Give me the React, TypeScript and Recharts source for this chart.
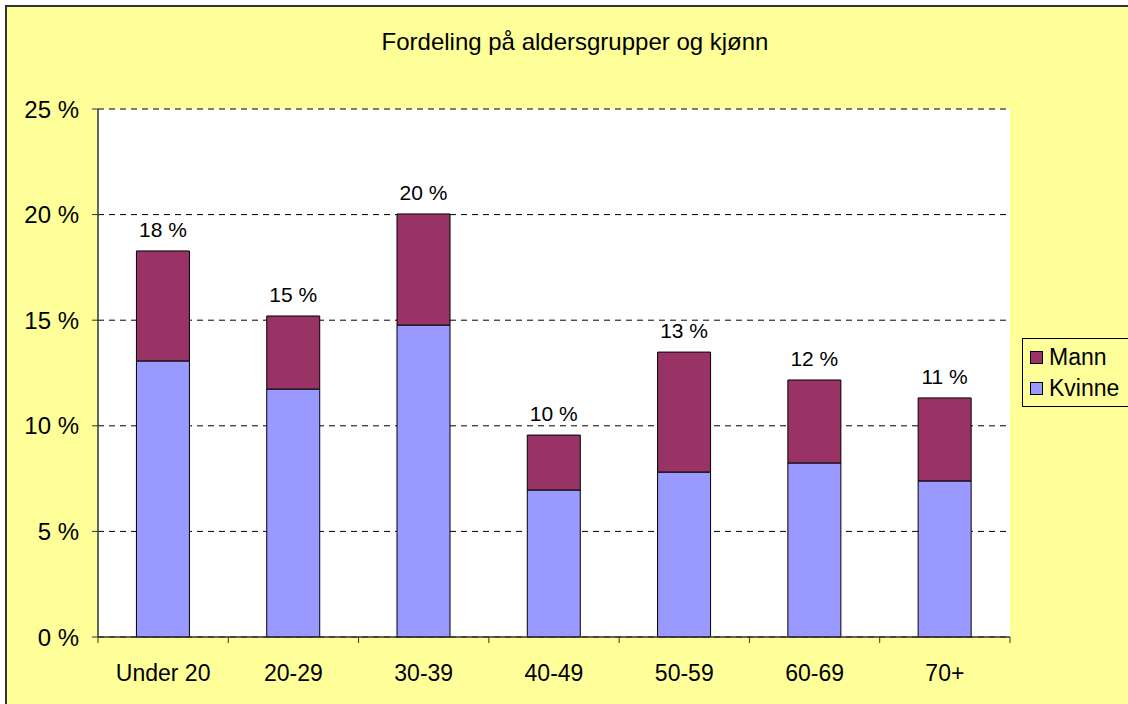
import { Bar, BarChart, CartesianGrid, LabelList, XAxis, YAxis } from "recharts";

const groups = ["Under 20", "20-29", "30-39", "40-49", "50-59", "60-69", "70+"];
const kvinne = [13.07, 11.74, 14.77, 6.96, 7.81, 8.24, 7.39];
const mann = [5.21, 3.46, 5.26, 2.6, 5.68, 3.93, 3.93];
const yTicks = [0, 5, 10, 15, 20, 25];

const data = groups.map((g, i) => ({
  group: g,
  Kvinne: kvinne[i],
  Mann: mann[i],
  total: kvinne[i] + mann[i],
}));

const FONT = "'Liberation Sans', Arial, sans-serif";

function GroupTick(props: any) {
  const { x, y, payload, index } = props;
  const half = payload.offset ?? 0;
  const axisY = y - 8;
  return (
    <g>
      <line x1={x + half} x2={x + half} y1={axisY} y2={axisY + 6} stroke="#333" />
      {index === 0 && <line x1={x - half} x2={x - half} y1={axisY} y2={axisY + 6} stroke="#333" />}
      <text x={x} y={axisY + 44} textAnchor="middle" fontSize={23} fill="#000" fontFamily={FONT}>
        {payload.value}
      </text>
    </g>
  );
}

function LegendBox() {
  const items = [
    { name: "Mann", color: "#993366" },
    { name: "Kvinne", color: "#9999FF" },
  ];
  return (
    <div
      style={{
        position: "absolute",
        left: 1022,
        top: 338,
        width: 130,
        height: 69,
        boxSizing: "border-box",
        border: "1px solid #000",
        background: "#FFFF99",
        padding: "3px 0 0 7px",
        fontFamily: FONT,
        fontSize: 23,
        lineHeight: "31px",
      }}
    >
      {items.map((it) => (
        <div key={it.name} style={{ display: "flex", alignItems: "center" }}>
          <span
            style={{
              display: "inline-block",
              width: 11,
              height: 11,
              background: it.color,
              border: "1px solid #000",
              marginRight: 6,
            }}
          />
          {it.name}
        </div>
      ))}
    </div>
  );
}

export default function App() {
  return (
    <div style={{ position: "absolute", left: 0, top: 0, width: 1128, height: 704, overflow: "hidden" }}>
      <div
        style={{
          position: "absolute",
          left: 5,
          top: 5,
          width: 1140,
          height: 720,
          background: "#FFFF99",
          border: "2px solid #333",
        }}
      />
      <div
        style={{
          position: "absolute",
          left: 0,
          top: 28,
          width: 1150,
          textAlign: "center",
          fontFamily: FONT,
          fontSize: 24,
        }}
      >
        Fordeling på aldersgrupper og kjønn
      </div>
      <div style={{ position: "absolute", left: 0, top: 0 }}>
        <BarChart
          width={1128}
          height={704}
          data={data}
          barCategoryGap="29.5%"
          margin={{ top: 109, right: 118, bottom: 37, left: 8 }}
        >
          <CartesianGrid vertical={false} fill="#fff" stroke="#000" strokeDasharray="6 5" />
          <XAxis
            dataKey="group"
            height={30}
            axisLine={{ stroke: "#333", strokeWidth: 1.5 }}
            tickLine={false}
            tickSize={0}
            tickMargin={8}
            tick={<GroupTick />}
            interval={0}
          />
          <XAxis xAxisId="top" dataKey="group" orientation="top" height={0} tick={false} tickLine={false} axisLine={{ stroke: "#888" }} />
          <YAxis
            domain={[0, 25]}
            ticks={yTicks}
            width={90}
            tickSize={6}
            tickMargin={13}
            axisLine={{ stroke: "#333", strokeWidth: 1.5 }}
            tickLine={{ stroke: "#333" }}
            tick={{ fill: "#000", fontSize: 24, fontFamily: FONT }}
            tickFormatter={(v: number) => `${v} %`}
          />
          <YAxis yAxisId="right" orientation="right" width={0} domain={[0, 25]} tick={false} tickLine={false} axisLine={{ stroke: "#888" }} />
          <Bar dataKey="Kvinne" stackId="a" fill="#9999FF" stroke="#000" strokeWidth={1} isAnimationActive={false} />
          <Bar dataKey="Mann" stackId="a" fill="#993366" stroke="#000" strokeWidth={1} isAnimationActive={false}>
            <LabelList
              dataKey="total"
              position="top"
              offset={14}
              formatter={(v: any) => `${Math.round(Number(v))} %`}
              style={{ fill: "#000", fontSize: 21, fontFamily: FONT }}
            />
          </Bar>
        </BarChart>
      </div>
      <LegendBox />
    </div>
  );
}
